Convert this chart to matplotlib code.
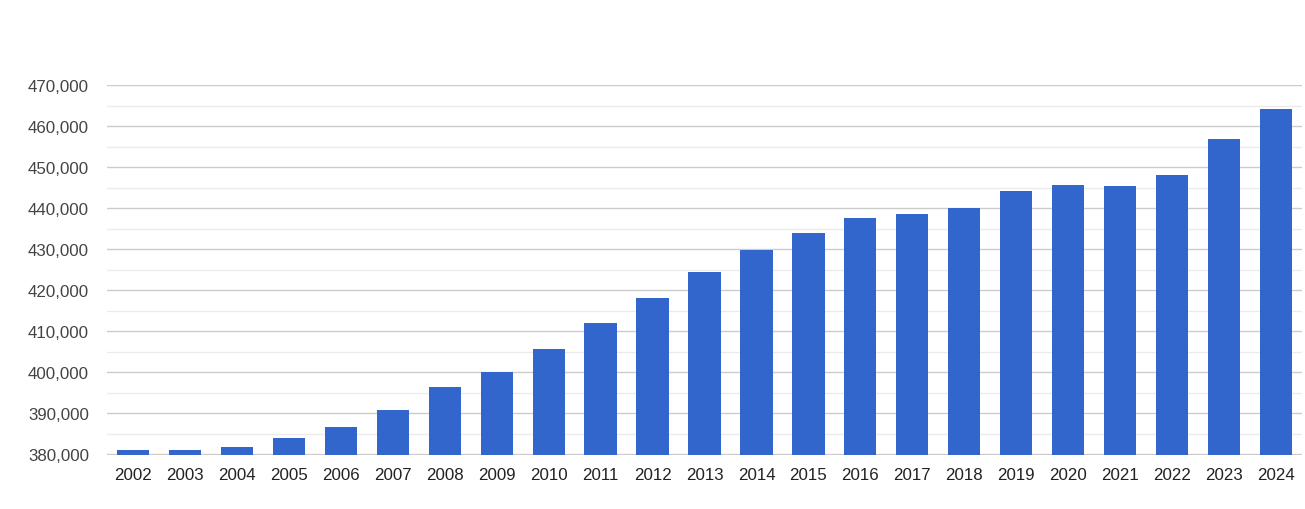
import matplotlib
matplotlib.use("Agg")
import matplotlib.pyplot as plt
from matplotlib.ticker import FuncFormatter, MultipleLocator

years = ["2002", "2003", "2004", "2005", "2006", "2007", "2008", "2009", "2010", "2011",
         "2012", "2013", "2014", "2015", "2016", "2017", "2018", "2019", "2020", "2021",
         "2022", "2023", "2024"]
values = [381100, 381100, 381800, 384000, 386700, 390800, 396400, 400100, 405700, 412000,
          418100, 424500, 429800, 434000, 437600, 438600, 440100, 444200, 445600, 445400,
          448100, 456900, 464200]

plt.rcParams['font.family'] = ['Liberation Sans', 'DejaVu Sans']

fig = plt.figure(figsize=(13.05, 5.10), dpi=100)
ax = fig.add_axes([107/1305, 1 - 455.5/510, (1302-107)/1305, (455.5-86)/510])

x = list(range(len(years)))
ax.bar(x, values, width=0.62, color="#3366cc", zorder=3, bottom=0)
ax.set_xlim(-0.5, len(years) - 0.5)
ax.set_ylim(380000, 470000)

ax.yaxis.set_major_locator(MultipleLocator(10000))
ax.yaxis.set_minor_locator(MultipleLocator(5000))
ax.yaxis.set_major_formatter(FuncFormatter(lambda v, p: f"{int(v):,}"))
ax.grid(axis="y", which="major", color="#cccccc", linewidth=1, zorder=0)
ax.grid(axis="y", which="minor", color="#ebebeb", linewidth=1, zorder=0)

ax.set_xticks(x)
ax.set_xticklabels(years)
for s in ax.spines.values():
    s.set_visible(False)
ax.tick_params(axis="both", which="both", length=0)
ax.tick_params(axis="y", labelsize=12.2, labelcolor="#444444", pad=13)
ax.tick_params(axis="x", labelsize=12.2, labelcolor="#222222", pad=9)

fig.savefig("out.png", dpi=100)
